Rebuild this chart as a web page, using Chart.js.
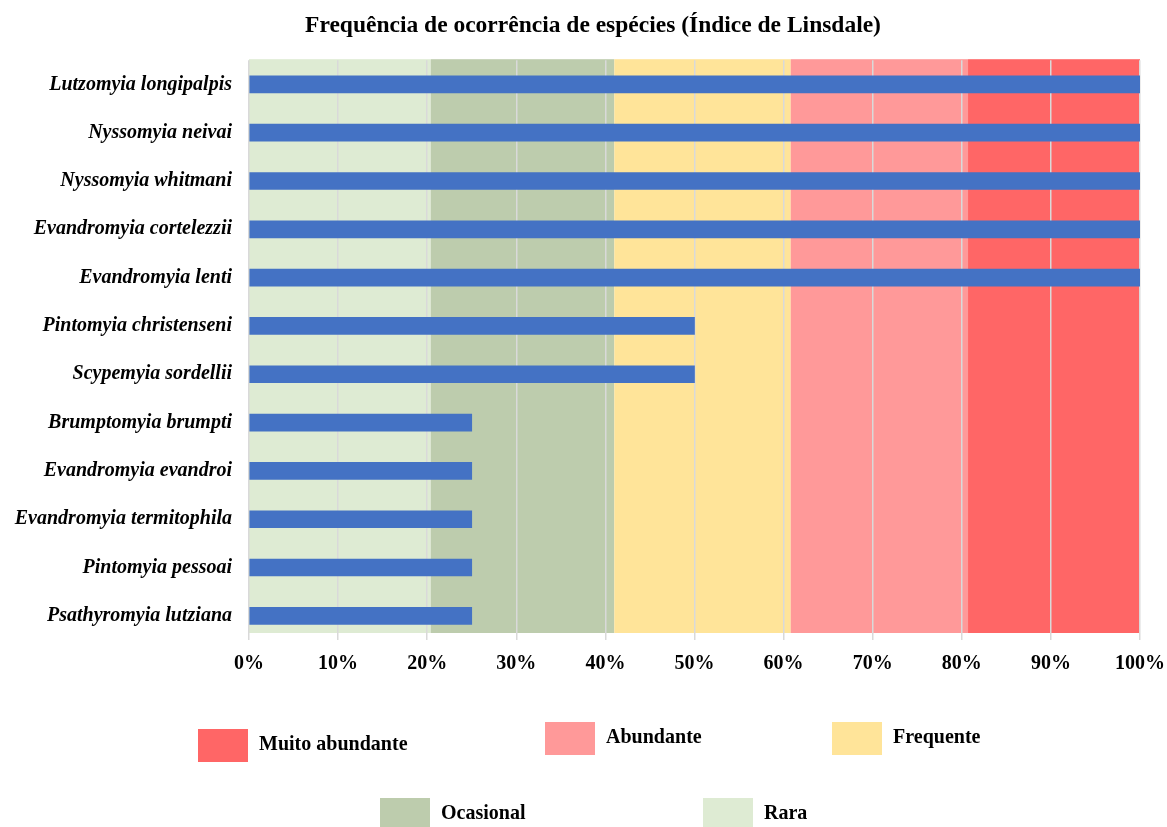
<!DOCTYPE html>
<html>
<head>
<meta charset="utf-8">
<script src="https://cdn.jsdelivr.net/npm/chart.js@4.4.1/dist/chart.umd.min.js"></script>
<style>
  html, body { margin: 0; padding: 0; background: #fff; }
</style>
</head>
<body>
<canvas id="linsdale" width="1167" height="827"></canvas>
<script>
const species = [
  "Lutzomyia longipalpis",
  "Nyssomyia neivai",
  "Nyssomyia whitmani",
  "Evandromyia cortelezzii",
  "Evandromyia lenti",
  "Pintomyia christenseni",
  "Scypemyia sordellii",
  "Brumptomyia brumpti",
  "Evandromyia evandroi",
  "Evandromyia termitophila",
  "Pintomyia pessoai",
  "Psathyromyia lutziana",
];
const frequency = [100, 100, 100, 100, 100, 50, 50, 25, 25, 25, 25, 25];

// Linsdale classes, from lowest to highest
const classNames = ["Rara", "Ocasional", "Frequente", "Abundante", "Muito abundante"];
const classLimits = [0, 20.4, 41, 60.8, 80.7, 100];
const classColors = ["#DEEBD3", "#BDCCAD", "#FFE499", "#FF9999", "#FF6666"];

const serif = "'Liberation Serif', 'Times New Roman', serif";

// coloured class bands behind the bars (under the grid)
const bandsPlugin = {
  id: "bands",
  beforeDraw(chart) {
    const { ctx, chartArea, scales } = chart;
    const x = scales.x;
    ctx.save();
    for (let i = 0; i < classNames.length; i++) {
      const x0 = x.getPixelForValue(classLimits[i]);
      const x1 = x.getPixelForValue(classLimits[i + 1]);
      ctx.fillStyle = classColors[i];
      ctx.fillRect(x0, chartArea.top - 1, x1 - x0, chartArea.bottom - chartArea.top - 6);
    }
    ctx.restore();
  },
};

// nudge the title a bit to the right of the canvas centre
const titleShift = {
  id: "titleShift",
  afterLayout(chart) {
    const t = chart.titleBlock;
    if (t) {
      t.left += 23;
      t.right += 23;
    }
  },
};

// legend laid out in two rows, highest class first
const legendPlugin = {
  id: "classLegend",
  afterDraw(chart) {
    const { ctx } = chart;
    const spots = [
      [198, 729], [545, 722], [832, 722],
      [380, 798], [703, 798],
    ];
    ctx.save();
    ctx.font = "bold 22px " + serif;
    ctx.textBaseline = "middle";
    for (let k = 0; k < classNames.length; k++) {
      const i = classNames.length - 1 - k;
      const [bx, by] = spots[k];
      ctx.fillStyle = classColors[i];
      ctx.fillRect(bx, by, 50, 33);
      // narrow lettering
      ctx.save();
      ctx.translate(bx + 61, by + 15);
      ctx.scale(0.91, 1);
      ctx.fillStyle = "#000";
      ctx.fillText(classNames[i], 0, 0);
      ctx.restore();
    }
    ctx.restore();
  },
};

new Chart(document.getElementById("linsdale"), {
  type: "bar",
  data: {
    labels: species,
    datasets: [
      {
        label: "Frequência",
        data: frequency,
        backgroundColor: "#4472C4",
        barThickness: 17,
      },
    ],
  },
  options: {
    indexAxis: "y",
    responsive: false,
    animation: false,
    layout: {
      padding: { left: 0, right: 27, top: 0, bottom: 0 },
    },
    plugins: {
      legend: { display: false },
      tooltip: { enabled: false },
      title: {
        display: true,
        text: "Frequência de ocorrência de espécies (Índice de Linsdale)",
        color: "#000",
        font: { family: serif, size: 23.5, weight: "bold" },
        padding: { top: 12, bottom: 20 },
      },
    },
    scales: {
      x: {
        min: 0,
        max: 100,
        afterFit: (scale) => {
          scale.height = 187;
          scale.paddingLeft = 0;
          scale.paddingRight = 0;
        },
        ticks: {
          stepSize: 10,
          padding: 12,
          color: "#000",
          font: { family: serif, size: 20, weight: "bold" },
          callback: (v) => v + "%",
        },
        grid: { color: "#D9D9D9", lineWidth: 1.5, drawTicks: false },
        border: { display: false },
      },
      y: {
        afterFit: (scale) => { scale.width = 249; },
        ticks: {
          padding: 9,
          color: "#000",
          font: { family: serif, size: 20, weight: "bold", style: "italic" },
        },
        grid: { display: false },
        border: { display: false },
      },
    },
  },
  plugins: [bandsPlugin, titleShift, legendPlugin],
});
</script>
</body>
</html>
